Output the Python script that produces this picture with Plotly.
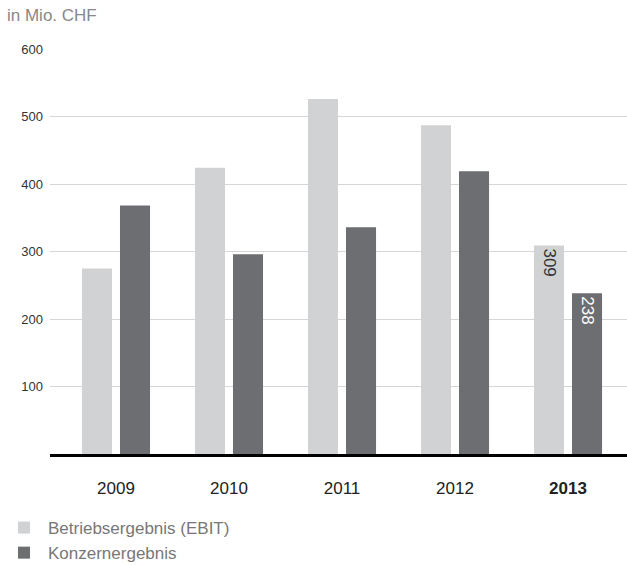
import plotly.graph_objects as go

years = ["2009", "2010", "2011", "2012", "2013"]
year_labels = ["2009", "2010", "2011", "2012", "<b>2013</b>"]
ebit = [275, 424, 526, 487, 309]
konzern = [368, 296, 336, 419, 238]
ebit_text = ["", "", "", "", "309"]
konzern_text = ["", "", "", "", "238"]

font_family = "Liberation Sans, Arial, sans-serif"

fig = go.Figure()
fig.add_trace(go.Bar(
    x=years, y=ebit, name="Betriebsergebnis (EBIT)",
    marker=dict(color="#d1d2d4", line=dict(width=0)),
    text=ebit_text, textposition="inside", insidetextanchor="end",
    textangle=90, textfont=dict(color="#333333", size=17, family=font_family),
))
fig.add_trace(go.Bar(
    x=years, y=konzern, name="Konzernergebnis",
    marker=dict(color="#6d6e71", line=dict(width=0)),
    text=konzern_text, textposition="inside", insidetextanchor="end",
    textangle=90, textfont=dict(color="#ffffff", size=17, family=font_family),
))

fig.update_layout(
    width=627, height=565,
    margin=dict(l=50, r=0, t=49, b=111, autoexpand=False),
    plot_bgcolor="white", paper_bgcolor="white",
    font=dict(family=font_family, color="#333333", size=13),
    barmode="group", bargap=0.327, bargroupgap=0.21,
    uniformtext=dict(minsize=15, mode="show"),
    title=dict(text="in Mio. CHF", x=7 / 627, xref="container", xanchor="left",
               y=1 - 15 / 565, yref="container", yanchor="middle",
               font=dict(size=17, color="#888888")),
    showlegend=True,
    legend=dict(xref="container", yref="container", x=0.0, y=1 - 510 / 565,
                xanchor="left", yanchor="top", orientation="v",
                font=dict(size=17, color="#777777"), tracegroupgap=0,
                itemwidth=38, bgcolor="rgba(0,0,0,0)"),
    xaxis=dict(
        range=[-0.584, 4.522], tickmode="array", tickvals=years, ticktext=year_labels,
        showline=True, linecolor="#000000", linewidth=3, ticks="",
        ticklabelstandoff=17,
        tickfont=dict(size=17, color="#222222"), showgrid=False,
    ),
    yaxis=dict(
        range=[0, 600], tickvals=[100, 200, 300, 400, 500, 600],
        showgrid=True, gridcolor="#d6d6d6", gridwidth=1, zeroline=False,
        ticks="", ticklabelstandoff=6, tickfont=dict(size=13, color="#333333"),
    ),
)

# drop the default 8px body margin so the figure sits in the window corner
fig.write_html("out.html", config={"displayModeBar": False},
               post_script="document.body.style.margin='0';")
